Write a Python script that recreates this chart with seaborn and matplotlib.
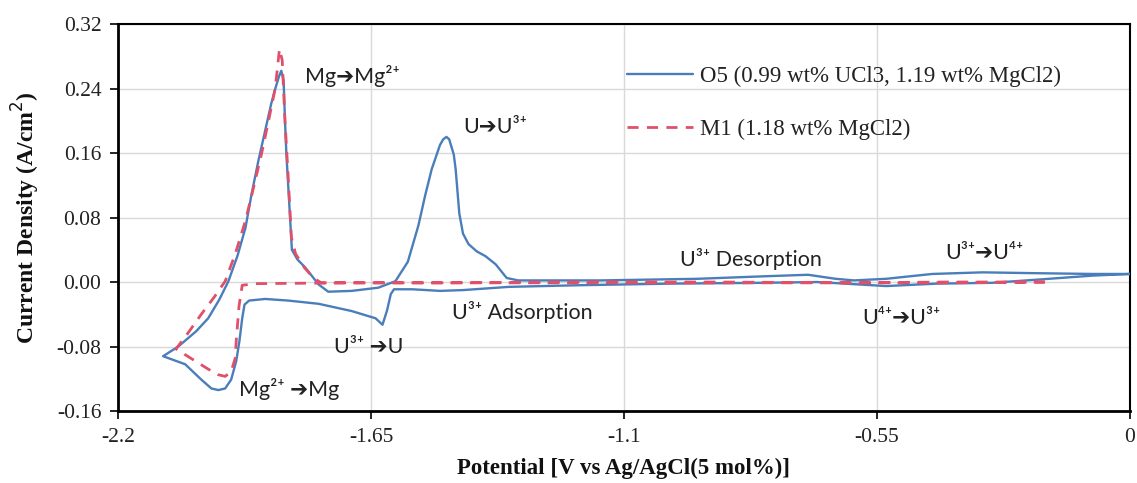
import numpy as np
import pandas as pd
import matplotlib
matplotlib.use("Agg")
import matplotlib.pyplot as plt
import seaborn as sns

# Cyclic voltammograms: potential (V vs Ag/AgCl) and current density (A/cm2)
o5_potential = [
    0.000, -0.080, -0.200, -0.300, -0.420, -0.530, -0.590, -0.680, -0.800, -1.000,
    -1.200, -1.350, -1.450, -1.500, -1.560, -1.600, -1.607, -1.615, -1.625, -1.640,
    -1.692, -1.764, -1.830, -1.880, -1.915, -1.925, -1.930, -1.936, -1.943, -1.954,
    -1.967, -1.982, -1.997, -2.019, -2.054, -2.102,
    -2.069, -2.030, -2.004, -1.980, -1.960, -1.940, -1.923, -1.910, -1.895, -1.880,
    -1.867, -1.857, -1.850, -1.845, -1.840, -1.837, -1.834, -1.828, -1.824, -1.822,
    -1.810, -1.793, -1.775, -1.764, -1.743, -1.692, -1.634, -1.597, -1.570, -1.547,
    -1.532, -1.518, -1.500, -1.493, -1.486, -1.480, -1.470, -1.466, -1.458, -1.450,
    -1.438, -1.420, -1.401, -1.379, -1.355, -1.330, -1.150, -0.940, -0.800, -0.700,
    -0.640, -0.600, -0.530, -0.430, -0.320, -0.210, -0.080, 0.000,
]
o5_current = [
    0.010, 0.008, 0.003, -0.001, -0.002, -0.005, -0.003, 0.000, -0.001, -0.002,
    -0.004, -0.006, -0.010, -0.011, -0.009, -0.009, -0.015, -0.035, -0.053, -0.045,
    -0.036, -0.027, -0.023, -0.021, -0.023, -0.028, -0.045, -0.073, -0.098, -0.121,
    -0.132, -0.134, -0.132, -0.121, -0.102, -0.092,
    -0.080, -0.061, -0.045, -0.022, 0.001, 0.033, 0.067, 0.108, 0.150, 0.188,
    0.221, 0.242, 0.255, 0.262, 0.250, 0.200, 0.159, 0.100, 0.060, 0.040,
    0.028, 0.018, 0.005, -0.003, -0.012, -0.011, -0.007, 0.001, 0.025, 0.070,
    0.108, 0.140, 0.170, 0.177, 0.180, 0.177, 0.158, 0.140, 0.085, 0.060,
    0.047, 0.038, 0.032, 0.022, 0.005, 0.002, 0.002, 0.004, 0.007, 0.009,
    0.004, 0.002, 0.004, 0.010, 0.012, 0.011, 0.010, 0.010,
]

m1_potential = [
    -0.185, -0.400, -0.700, -1.000, -1.400, -1.700, -1.900, -1.930, -1.937, -1.943,
    -1.945, -1.954, -1.967, -1.982, -2.004, -2.032, -2.074,
    -2.050, -2.019, -1.990, -1.967, -1.945, -1.923, -1.905, -1.888, -1.872, -1.858,
    -1.849, -1.843, -1.837, -1.830, -1.823, -1.814, -1.795, -1.775, -1.758, -1.500,
    -1.200, -0.900, -0.600, -0.400, -0.185,
]
m1_current = [
    0.000, -0.001, -0.001, -0.001, -0.001, -0.001, -0.002, -0.004, -0.030, -0.073,
    -0.094, -0.111, -0.117, -0.115, -0.108, -0.098, -0.083,
    -0.065, -0.040, -0.018, 0.001, 0.035, 0.076, 0.118, 0.159, 0.202, 0.241,
    0.289, 0.275, 0.200, 0.130, 0.055, 0.035, 0.018, 0.005, -0.001, -0.001,
    0.000, 0.000, -0.001, 0.000, 0.000,
]

series_labels = ["O5 (0.99 wt% UCl3, 1.19 wt% MgCl2)", "M1 (1.18 wt% MgCl2)"]
x_ticks = [-2.2, -1.65, -1.1, -0.55, 0.0]
x_tick_labels = ["-2.2", "-1.65", "-1.1", "-0.55", "0"]
y_ticks = [-0.16, -0.08, 0.00, 0.08, 0.16, 0.24, 0.32]

ARROW = "\u2794"
annotations = [
    (f"Mg{ARROW}Mg\u00b2\u207a", -1.690, 0.256),
    (f"U{ARROW}U\u00b3\u207a", -1.381, 0.192),
    ("U\u00b3\u207a Desorption", -0.825, 0.029),
    (f"U\u00b3\u207a{ARROW}U\u2074\u207a", -0.316, 0.036),
    ("U\u00b3\u207a Adsorption", -1.320, -0.037),
    (f"U\u00b3\u207a {ARROW}U", -1.655, -0.080),
    (f"Mg\u00b2\u207a {ARROW}Mg", -1.827, -0.133),
    (f"U\u2074\u207a{ARROW}U\u00b3\u207a", -0.496, -0.044),
]

sns.set_theme(style="white")
plt.rcParams["axes.unicode_minus"] = False
serif = ["Liberation Serif", "DejaVu Serif"]
sans = ["Lato", "DejaVu Sans"]

fig = plt.figure(figsize=(11.37, 4.83), dpi=100)
ax = fig.add_axes([0.1038, 0.149, 0.8900, 0.8013])

o5 = pd.DataFrame({"E": o5_potential, "j": o5_current})
m1 = pd.DataFrame({"E": m1_potential, "j": m1_current})

sns.lineplot(data=o5, x="E", y="j", sort=False, estimator=None, ax=ax,
             color="#4a7ebb", linewidth=1.7, label=series_labels[0], zorder=3)
sns.lineplot(data=m1, x="E", y="j", sort=False, estimator=None, ax=ax,
             color="#e0506a", linewidth=2.0, linestyle=(0, (4, 3)),
             label=series_labels[1], zorder=4)

ax.set_xlim(-2.2, 0.0)
ax.set_ylim(-0.16, 0.32)
ax.set_xticks(x_ticks)
ax.set_xticklabels(x_tick_labels)
ax.set_yticks(y_ticks)
ax.set_yticklabels([f"{v:.2f}" for v in y_ticks])

ax.grid(True, color="#d9d9d9", linewidth=1.0)
ax.set_axisbelow(True)

for side in ["left", "bottom"]:
    ax.spines[side].set_linewidth(2.0)
    ax.spines[side].set_color("black")
for side in ["top", "right"]:
    ax.spines[side].set_linewidth(1.5)
    ax.spines[side].set_color("black")

ax.tick_params(axis="both", which="major", direction="out", length=6, width=1.2,
               color="black", left=True, bottom=True, pad=6)
for lbl in ax.get_xticklabels() + ax.get_yticklabels():
    lbl.set_fontfamily(serif)
    lbl.set_fontsize(15.5)
    lbl.set_color("#222222")

ax.set_xlabel("Potential [V vs Ag/AgCl(5 mol%)]", fontfamily=serif, fontsize=16.5,
              fontweight="bold", labelpad=8, color="#111111")
ax.set_ylabel("Current Density (A/cm$^{2}$)", fontfamily=serif, fontsize=17,
              fontweight="bold", labelpad=10, color="#111111")

for text, x, y in annotations:
    ax.text(x, y, text, fontfamily=sans, fontsize=15.5, ha="center", va="center",
            color="#222222", zorder=5)

leg = ax.legend(loc="upper left", bbox_to_anchor=(0.503, 0.892), frameon=False,
                borderaxespad=0, borderpad=0,
                prop={"family": serif, "size": 16.5}, handlelength=2.9,
                labelspacing=1.4, handletextpad=0.3)
for t in leg.get_texts():
    t.set_color("#222222")

fig.savefig("out.png", dpi=100, facecolor="white")
